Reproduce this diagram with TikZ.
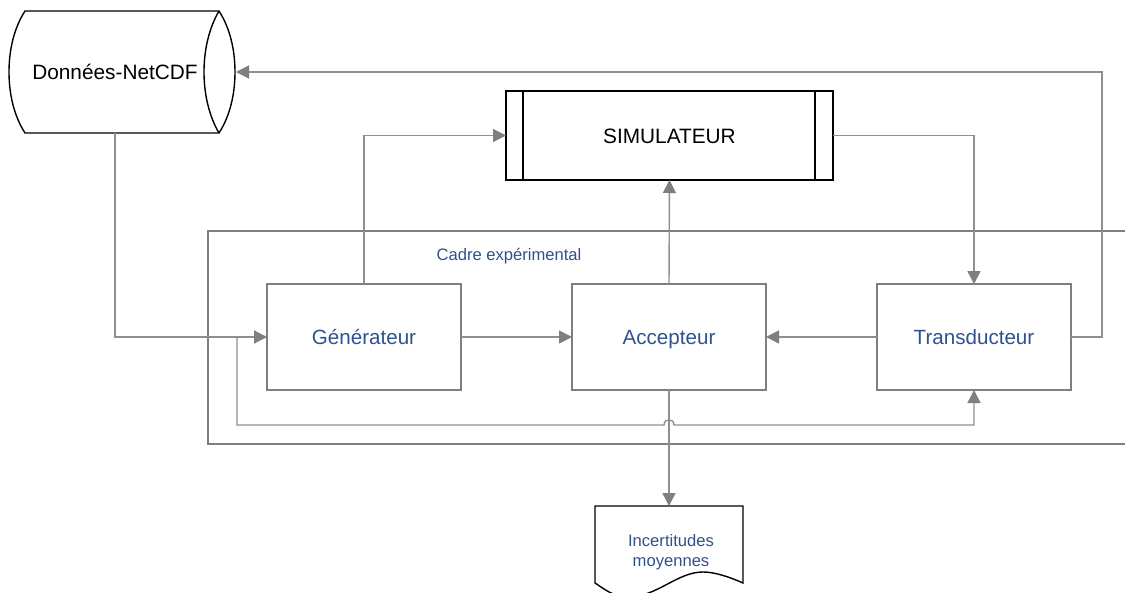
\documentclass[tikz,border=0pt]{standalone}
\usepackage{fontspec}
\setmainfont{Liberation Sans}
\usetikzlibrary{arrows.meta,calc}
\definecolor{conn}{HTML}{8F8F8F}
\definecolor{tipc}{HTML}{7F7F7F}
\definecolor{boxl}{HTML}{7F7F7F}
\definecolor{blueT}{HTML}{2F528F}
\tikzset{
  x=1pt,y=-1pt,
  every node/.style={inner sep=0pt,outer sep=0pt},
  procbox/.style={draw=boxl,line width=2pt,fill=white,minimum width=194pt,minimum height=106pt,text=blueT,font=\fontsize{20.6}{24}\selectfont,text height=15pt,text depth=0pt},
  anchorbox/.style={draw=none},
  shapeline/.style={draw=black,line width=1.4pt},
  flow/.style={draw=conn,line width=1.4pt,-{Triangle[length=13pt,width=13pt,color=tipc]}},
  frameline/.style={draw=boxl,line width=2pt},
  bigtext/.style={text=black,font=\fontsize{20.8}{24}\selectfont,text height=15pt,text depth=0pt},
  smalltext/.style={text=blueT,font=\fontsize{16.6}{20}\selectfont,align=center}
}
\begin{document}
\begin{tikzpicture}
\useasboundingbox (0,0) rectangle (1125,592);
\clip (0,0) rectangle (1125,592);
\fill[white] (0,0) rectangle (1125,592);
% frame
\coordinate (frTR) at (1125,231);
\coordinate (frTL) at (208,231);
\coordinate (frBL) at (208,444);
\coordinate (frBR) at (1125,444);
\draw[frameline] (frTR) -- (frTL) -- (frBL) -- (frBR);
\node[smalltext,anchor=center] (cadre) at (509,256) {Cadre expérimental};
% database
\node[anchorbox,minimum width=226pt,minimum height=122pt] (data) at (122,72) {};
\draw[shapeline,fill=white] (25,11) -- (219,11) .. controls (230,28) and (235,50) .. (235,72) .. controls (235,94) and (230,116) .. (219,133) -- (25,133) .. controls (14,116) and (9,94) .. (9,72) .. controls (9,50) and (14,28) .. (25,11) -- cycle;
\draw[shapeline] (219,11) .. controls (209,28) and (204,50) .. (204,72) .. controls (204,94) and (209,116) .. (219,133);
\node[bigtext] (datalabel) at (115,72) {Données-NetCDF};
% simulator
\node[shapeline,fill=white,minimum width=327pt,minimum height=89pt,bigtext] (sim) at (669.5,135.5) {SIMULATEUR};
\draw[shapeline] (523,91) -- (523,180) (815,91) -- (815,180);
% process boxes
\node[procbox] (gen) at (364,337) {Générateur};
\node[procbox] (acc) at (669,337) {Accepteur};
\node[procbox] (trans) at (974,337) {Transducteur};
% document
\node[anchorbox,minimum width=148pt,minimum height=78pt] (doc) at (669,545) {};
\draw[shapeline,fill=white] (595,506) -- (743,506) -- (743,583) .. controls (725,575) and (712,572) .. (703,572) .. controls (677,572) and (657,597) .. (628,597) .. controls (613,597) and (603,588) .. (595,583) -- cycle;
\node[smalltext] (doclabel) at (671,552) {Incertitudes\\[-0.5pt]moyennes};
% connectors
\coordinate (branch) at (237,337);
\coordinate (jumpL) at (664,425);
\coordinate (jumpR) at (674,425);
\draw[flow] (datalabel |- data.south) |- (gen.west);
\draw[flow] (branch) |- (jumpL) .. controls (664.5,421) and (666,420) .. (669,420) .. controls (672,420) and (673.5,421) .. (jumpR) -| (trans.south);
\draw[flow] (gen.north) |- (sim.west);
\draw[flow] (gen.east) -- (acc.west);
\draw[flow] (trans.west) -- (acc.east);
\draw[flow] (acc.north) -- (sim.south);
\draw[flow] (sim.east) -| (trans.north);
\coordinate (backup) at (1102,72);
\draw[flow] (trans.east) -| (backup) -- ($(data.east)+(1,0)$);
\draw[flow] (acc.south) -- (doc.north);
\end{tikzpicture}
\end{document}
